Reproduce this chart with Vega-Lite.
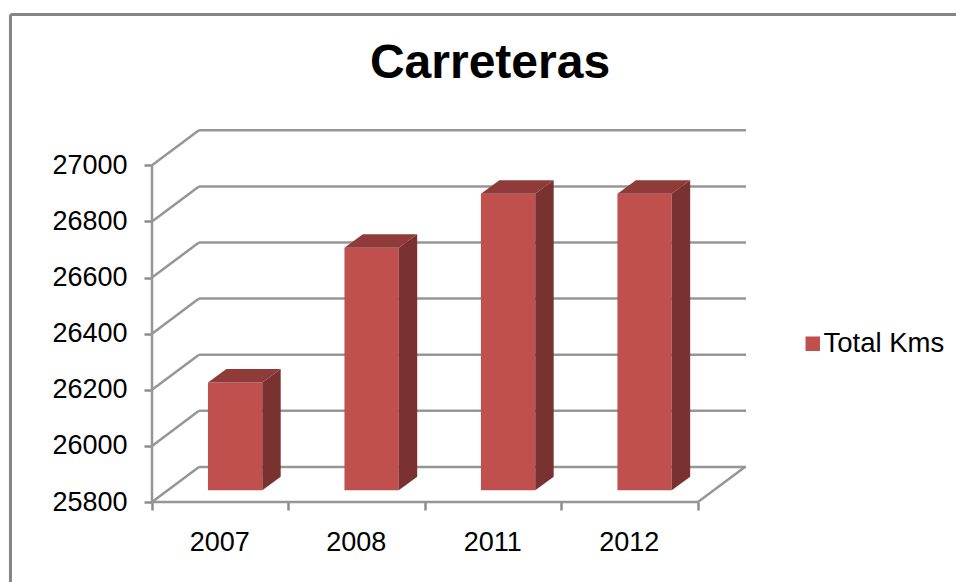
{
"$schema":"https://vega.github.io/schema/vega-lite/v6.json",
"width":594,"height":372,
"autosize":{"type":"none"},
"padding":{"left":152,"top":130,"right":210,"bottom":80},
"background":"white",
"view":{"stroke":null},
"title":{"text":"Carreteras","font":"Liberation Sans","fontSize":48,"fontWeight":"bold","color":"#000000","anchor":"middle","frame":"group","dx":41,"offset":0,"dy":75},
"datasets":{
"bars":[{"year":"2007","index":0,"km":26184},{"year":"2008","index":1,"km":26664},{"year":"2011","index":2,"km":26857},{"year":"2012","index":3,"km":26857}],
"ticks":[{"km":25800},{"km":26000},{"km":26200},{"km":26400},{"km":26600},{"km":26800},{"km":27000}],
"lines":[{"name":"yaxis","a":0,"b":25800,"c":0,"d":27000},{"name":"xaxis","a":0,"b":25800,"c":4,"d":25800},{"name":"floor","a":4,"b":25800,"c":4.344,"d":25925}],
"frame":[{"name":"top","a":-1.037,"b":27538,"c":5.9,"d":27538},{"name":"left","a":-1.037,"b":27538,"c":-1.037,"d":25500}]
},
"encoding":{
"x":{"field":"px","type":"quantitative","title":null,"scale":{"domain":[0,4.352],"nice":false,"zero":false},
 "axis":{"values":[0,0.5,1,1.5,2,2.5,3,3.5,4],"labelExpr":"datum.value==0.5?'2007':datum.value==1.5?'2008':datum.value==2.5?'2011':datum.value==3.5?'2012':''","grid":false,"domain":false,"tickColor":"#8c8c8c","tickWidth":2.5,"tickSize":8,"tickOpacity":{"condition":{"test":"datum.value%1==0","value":1},"value":0},"labelFont":"Liberation Sans","labelFontSize":27,"labelColor":"#000000","labelPadding":19,"labelOffset":-1,"labelOverlap":false,"labelFlush":false}},
"y":{"field":"py","type":"quantitative","title":null,"scale":{"domain":[25800,27126],"nice":false,"zero":false},
 "axis":{"values":[25800,26000,26200,26400,26600,26800,27000],"format":"d","grid":false,"domain":false,"tickColor":"#8c8c8c","tickWidth":2.5,"tickSize":8,"labelFont":"Liberation Sans","labelFontSize":27,"labelColor":"#000000","labelPadding":17,"labelOverlap":false,"labelFlush":false}}
},
"layer":[
{"data":{"name":"frame"},"transform":[{"calculate":"datum.a","as":"px"},{"calculate":"datum.b","as":"py"},{"calculate":"datum.c","as":"px2"},{"calculate":"datum.d","as":"py2"}],
 "mark":{"type":"rule","color":"#858585","strokeWidth":3},
 "encoding":{"x2":{"field":"px2"},"y2":{"field":"py2"}}},
{"data":{"name":"ticks"},"transform":[{"calculate":"0","as":"px"},{"calculate":"datum.km","as":"py"},{"calculate":"0.344","as":"px2"},{"calculate":"datum.km+125","as":"py2"}],
 "mark":{"type":"rule","color":"#969696","strokeWidth":2.5},
 "encoding":{"x2":{"field":"px2"},"y2":{"field":"py2"}}},
{"data":{"name":"ticks"},"transform":[{"calculate":"0.344","as":"px"},{"calculate":"datum.km+125","as":"py"},{"calculate":"4.352","as":"px2"},{"calculate":"datum.km+125","as":"py2"}],
 "mark":{"type":"rule","color":"#969696","strokeWidth":2.5},
 "encoding":{"x2":{"field":"px2"},"y2":{"field":"py2"}}},
{"data":{"name":"lines"},"transform":[{"calculate":"datum.a","as":"px"},{"calculate":"datum.b","as":"py"},{"calculate":"datum.c","as":"px2"},{"calculate":"datum.d","as":"py2"}],
 "mark":{"type":"rule","color":"#969696","strokeWidth":2.5},
 "encoding":{"x2":{"field":"px2"},"y2":{"field":"py2"}}},
{"data":{"name":"bars"},"transform":[{"calculate":"datum.index+0.41","as":"px"},{"calculate":"25842","as":"py"},{"calculate":"datum.index+0.808","as":"px2"},{"calculate":"datum.km+42","as":"py2"}],
 "mark":{"type":"rect"},
 "encoding":{"x2":{"field":"px2"},"y2":{"field":"py2"},
  "color":{"datum":"Total Kms","type":"nominal","scale":{"domain":["Total Kms"],"range":["#C0504D"]},
   "legend":{"title":null,"orient":"none","legendX":647,"legendY":200,"symbolType":"square","symbolSize":210,"symbolStrokeWidth":0,"labelFont":"Liberation Sans","labelFontSize":27.5,"labelColor":"#000000","labelOffset":-3}}}},
{"data":{"name":"bars"},"transform":[{"calculate":"[0,1]","as":"k"},{"flatten":["k"]},{"calculate":"datum.index+0.808+datum.k*0.135","as":"px"},{"calculate":"25842+datum.k*48","as":"py"},{"calculate":"datum.km+42+datum.k*48","as":"py2"}],
 "mark":{"type":"area","color":"#7A3230","opacity":1},
 "encoding":{"y2":{"field":"py2"},"detail":{"field":"year"}}},
{"data":{"name":"bars"},"transform":[{"calculate":"[0,1,2,3]","as":"k"},{"flatten":["k"]},{"calculate":"datum.index+0.41+(datum.k==0?0:datum.k==1?0.135:datum.k==2?0.398:0.533)","as":"px"},{"calculate":"datum.km+42+(datum.k==3?48:0)","as":"py"},{"calculate":"datum.km+42+(datum.k==0?0:48)","as":"py2"}],
 "mark":{"type":"area","color":"#8F3B39","opacity":1},
 "encoding":{"y2":{"field":"py2"},"detail":{"field":"year"}}}
]
}
